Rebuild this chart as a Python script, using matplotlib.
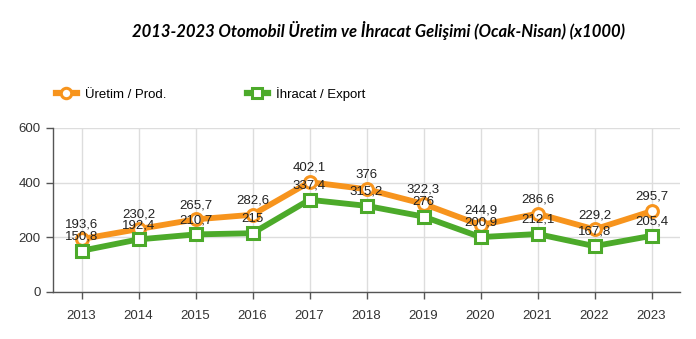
import matplotlib
matplotlib.use("Agg")
import matplotlib.pyplot as plt
from matplotlib.lines import Line2D

years = ["2013", "2014", "2015", "2016", "2017", "2018", "2019", "2020", "2021", "2022", "2023"]
production = [193.6, 230.2, 265.7, 282.6, 402.1, 376, 322.3, 244.9, 286.6, 229.2, 295.7]
export = [150.8, 192.4, 210.7, 215, 337.4, 315.2, 276, 200.9, 212.1, 167.8, 205.4]
prod_labels = ["193,6", "230,2", "265,7", "282,6", "402,1", "376", "322,3", "244,9", "286,6", "229,2", "295,7"]
export_labels = ["150,8", "192,4", "210,7", "215", "337,4", "315,2", "276", "200,9", "212,1", "167,8", "205,4"]
y_ticks = [0, 200, 400, 600]

ORANGE = "#F7941D"
GREEN = "#4CAA2A"
TEXT = "#333333"

fig = plt.figure(figsize=(6.96, 3.39), dpi=100)
fig.patch.set_facecolor("white")
ax = fig.add_axes([53 / 696, 1 - 292 / 339, 627 / 696, 164 / 339])

x = list(range(len(years)))
ax.plot(x, production, color=ORANGE, lw=4.2, marker="o", ms=8.5,
        mfc="white", mec=ORANGE, mew=2.2, zorder=3, solid_joinstyle="miter")
ax.plot(x, export, color=GREEN, lw=4.2, marker="s", ms=8.5,
        mfc="white", mec=GREEN, mew=2.2, zorder=4, solid_joinstyle="miter")

for xi, v, lab in zip(x, production, prod_labels):
    ax.annotate(lab, (xi, v), xytext=(0, 6), textcoords="offset points",
                ha="center", va="bottom", fontsize=9.5, color="#222222",
                family="Liberation Sans", zorder=6)
for xi, v, lab in zip(x, export, export_labels):
    ax.annotate(lab, (xi, v), xytext=(0, 6), textcoords="offset points",
                ha="center", va="bottom", fontsize=9.5, color="#222222",
                family="Liberation Sans", zorder=6)

ax.set_xlim(-0.5, len(years) - 0.5)
ax.set_ylim(0, 600)
ax.set_xticks(x)
ax.set_xticklabels(years)
ax.set_yticks(y_ticks)
ax.grid(True, color="#DDDDDD", lw=1.0, zorder=0)
ax.set_axisbelow(True)
for s in ["top", "right"]:
    ax.spines[s].set_visible(False)
for s in ["left", "bottom"]:
    ax.spines[s].set_color("#555555")
    ax.spines[s].set_linewidth(1.0)
ax.tick_params(axis="both", colors="#555555", length=5, width=1, labelsize=9.5,
               labelcolor=TEXT)
ax.tick_params(axis="x", pad=8)
ax.tick_params(axis="y", pad=4)
for lbl in ax.get_xticklabels() + ax.get_yticklabels():
    lbl.set_family("Liberation Sans")

fig.text(378 / 696, 1 - 31 / 339,
         "2013-2023 Otomobil Üretim ve İhracat Gelişimi (Ocak-Nisan) (x1000)",
         ha="center", va="center", fontsize=12, fontweight="bold",
         fontstyle="italic", family="Lato", color="black")

handles = [
    Line2D([], [], color=ORANGE, lw=4.5, marker="o", ms=7.5, mfc="white", mec=ORANGE, mew=2.2),
    Line2D([], [], color=GREEN, lw=4.5, marker="s", ms=7.5, mfc="white", mec=GREEN, mew=2.2),
]
fig.legend(handles, ["Üretim / Prod.", "İhracat / Export"], loc="center left",
           bbox_to_anchor=(44 / 696, 1 - 94 / 339), ncol=2, frameon=False,
           handlelength=1.6, handletextpad=0.6, columnspacing=6.1,
           prop={"family": "Liberation Sans", "size": 9.5})

fig.savefig("out.png", dpi=100, facecolor="white")
